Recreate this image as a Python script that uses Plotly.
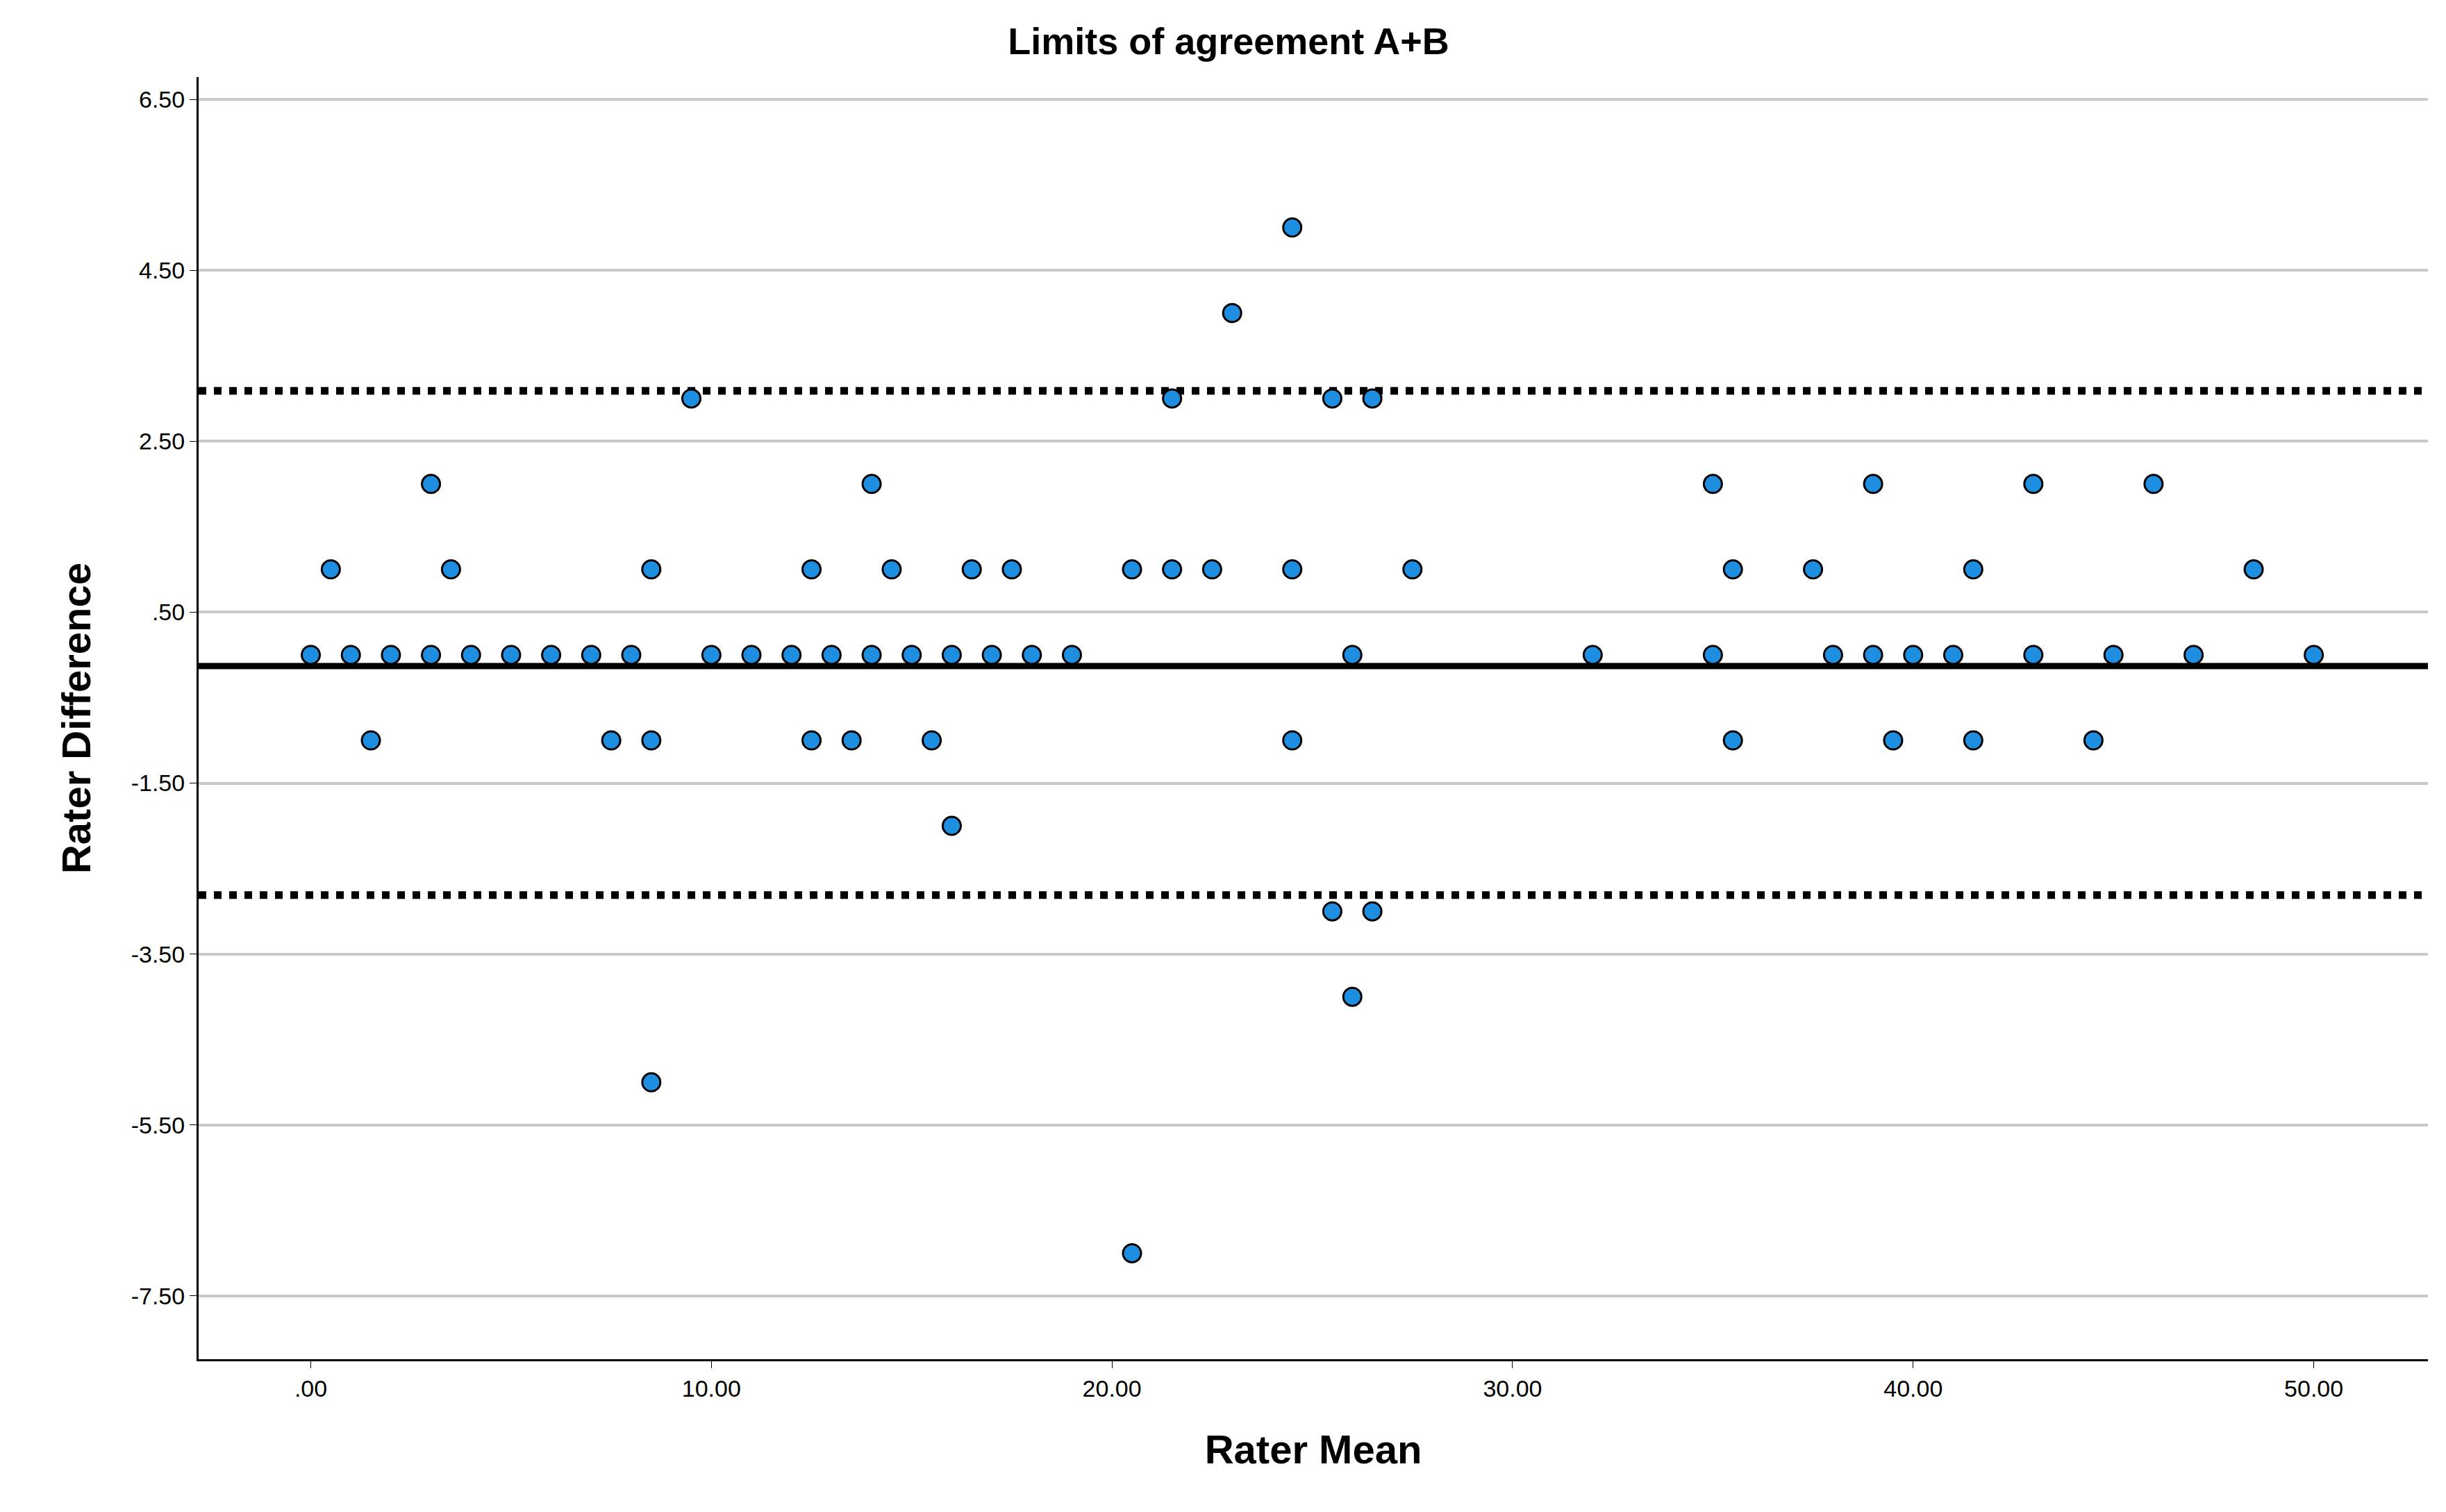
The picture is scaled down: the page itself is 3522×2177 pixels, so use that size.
import plotly.graph_objects as go

# Bland-Altman data
x0 = [0, 1, 2, 3, 4, 5, 6, 7, 8, 10, 11, 12, 13, 14, 15, 16, 17, 18, 19, 26, 32, 35, 38, 39, 40, 41, 43, 45, 47, 50]
x1 = [0.5, 3.5, 8.5, 12.5, 14.5, 16.5, 17.5, 20.5, 21.5, 22.5, 24.5, 27.5, 35.5, 37.5, 41.5, 48.5]
x2 = [3, 14, 35, 39, 43, 46]
x3 = [9.5, 21.5, 25.5, 26.5]
xm1 = [1.5, 7.5, 8.5, 12.5, 13.5, 15.5, 24.5, 35.5, 39.5, 41.5, 44.5]
extra_x = [23, 24.5, 16, 25.5, 26.5, 26, 8.5, 20.5]
extra_y = [4, 5, -2, -3, -3, -4, -5, -7]

mean_diff = -0.13
upper_loa = 3.09
lower_loa = -2.81
y_ticks = [6.5, 4.5, 2.5, 0.5, -1.5, -3.5, -5.5, -7.5]
y_labels = ["6.50", "4.50", "2.50", ".50", "-1.50", "-3.50", "-5.50", "-7.50"]
x_ticks = [0, 10, 20, 30, 40, 50]
x_labels = [".00", "10.00", "20.00", "30.00", "40.00", "50.00"]

xs = x0 + x1 + x2 + x3 + xm1 + extra_x
ys = [0] * len(x0) + [1] * len(x1) + [2] * len(x2) + [3] * len(x3) + [-1] * len(xm1) + extra_y

fig = go.Figure()
for yv, dash, w in [(upper_loa, "dot", 11), (lower_loa, "dot", 11), (mean_diff, "solid", 9)]:
    fig.add_trace(go.Scatter(x=[-2.8, 52.85], y=[yv, yv], mode="lines",
                             line=dict(color="black", width=w, dash=dash),
                             hoverinfo="skip", showlegend=False))
fig.add_trace(go.Scatter(x=xs, y=ys, mode="markers", showlegend=False,
                         marker=dict(size=26, color="#1E8FE0",
                                     line=dict(color="black", width=3))))

font = "Liberation Sans, Arial, sans-serif"
fig.update_layout(
    width=3522, height=2177,
    paper_bgcolor="white", plot_bgcolor="white",
    margin=dict(l=278, r=34, t=103, b=228),
    font=dict(family=font, color="black"),
    title=dict(text="<b>Limits of agreement A+B</b>", x=0.5, xanchor="center",
               y=0.985, yanchor="top", font=dict(size=54)),
)
fig.update_xaxes(range=[-2.8, 52.85], tickvals=x_ticks, ticktext=x_labels,
                 showgrid=False, zeroline=False, showline=True, linecolor="black",
                 linewidth=3, ticks="outside", ticklen=10, tickcolor="black",
                 tickfont=dict(size=34),
                 title=dict(text="<b>Rater Mean</b>", font=dict(size=58), standoff=50))
fig.update_yaxes(range=[-8.24, 6.76], tickvals=y_ticks, ticktext=y_labels,
                 showgrid=True, gridcolor="#C8C8C8", gridwidth=4, zeroline=False,
                 showline=True, linecolor="black", linewidth=3,
                 ticks="outside", ticklen=10, tickcolor="black",
                 tickfont=dict(size=34),
                 title=dict(text="<b>Rater Difference</b>", font=dict(size=58), standoff=40))

fig.write_html("out.html")
